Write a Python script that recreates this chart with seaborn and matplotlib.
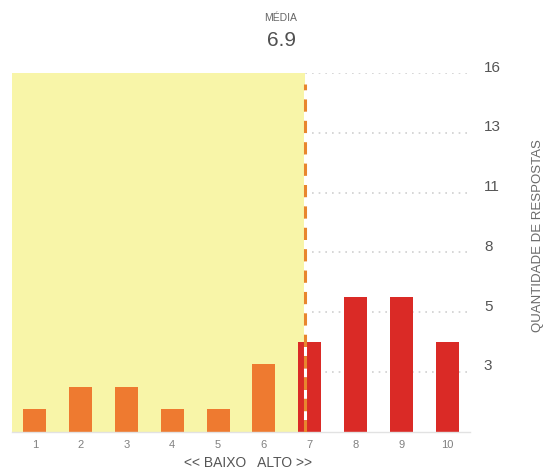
import numpy as np
import pandas as pd
import matplotlib
matplotlib.use("Agg")
import matplotlib.pyplot as plt
import matplotlib.transforms as mtransforms
import seaborn as sns

# ---- data ----
scores = [1, 2, 3, 4, 5, 6, 7, 8, 9, 10]
counts = [1, 2, 2, 1, 1, 3, 4, 6, 6, 4]
groups = ["baixo"] * 6 + ["alto"] * 4
mean_value = 6.9
ytick_labels = ["3", "5", "8", "11", "13", "16"]
y_max = 16
title_small = "MÉDIA"
title_big = "6.9"
x_label = "<< BAIXO   ALTO >>"
y_label = "QUANTIDADE DE RESPOSTAS"

sns.set_style("white")
plt.rcParams["font.family"] = ["Liberation Sans", "DejaVu Sans"]

df = pd.DataFrame({"score": scores, "count": counts, "group": groups})

fig = plt.figure(figsize=(5.45, 4.75), dpi=100)
ax = fig.add_axes([12 / 545, 43.3 / 475, 458 / 545, 358.5 / 475])

# yellow "low" region and mean line
ax.axvspan(0.5, mean_value, color="#f8f5a8", zorder=0.8, lw=0)

sns.barplot(data=df, x="score", y="count", hue="group", dodge=False,
            native_scale=True, width=0.5, saturation=1,
            palette={"baixo": "#ee7a30", "alto": "#da2a26"},
            legend=False, ax=ax, zorder=2, linewidth=0)

ax.axvline(mean_value, ymin=0, ymax=0.97, color="#e8862e", lw=2.2,
           ls=(0, (4, 3)), gapcolor="white", zorder=3)

ax.set_xlim(0.5, 10.5)
ax.set_ylim(0, y_max)

# y axis on the right, ticks at sixths of the max
yt = np.linspace(y_max / 6, y_max, 6)
ax.yaxis.tick_right()
ax.set_yticks(yt)
ax.set_yticklabels(ytick_labels)
ax.tick_params(axis="y", length=0, pad=10, labelsize=11, labelcolor="#555555")
offset = mtransforms.ScaledTranslation(0, 7 / 100, fig.dpi_scale_trans)
for lbl in ax.get_yticklabels():
    lbl.set_transform(lbl.get_transform() + offset)

ax.set_xticks(scores)
ax.set_xticklabels([str(s) for s in scores])
ax.tick_params(axis="x", length=0, pad=6, labelsize=8, labelcolor="#808080")

ax.grid(axis="y", color="#cfcfcf", ls=(0, (1, 3)), lw=1.2)
ax.grid(axis="x", visible=False)
ax.set_axisbelow(True)

for s in ["top", "left", "right"]:
    ax.spines[s].set_visible(False)
ax.spines["bottom"].set_color("#e2e2e2")
ax.spines["bottom"].set_linewidth(1)

ax.set_xlabel("")
ax.set_ylabel("")

fig.text(281 / 545, 1 - 18 / 475, title_small, ha="center", va="center",
         fontsize=7.5, color="#666666")
fig.text(281 / 545, 1 - 41 / 475, title_big, ha="center", va="center",
         fontsize=15, color="#505050")
fig.text(248 / 545, 1 - 463 / 475, x_label, ha="center", va="center",
         fontsize=10, color="#555555")
fig.text(538 / 545, 1 - 236 / 475, y_label, ha="center", va="center",
         rotation=90, fontsize=9.5, color="#6a6a6a")

fig.savefig("out.png", dpi=100)
